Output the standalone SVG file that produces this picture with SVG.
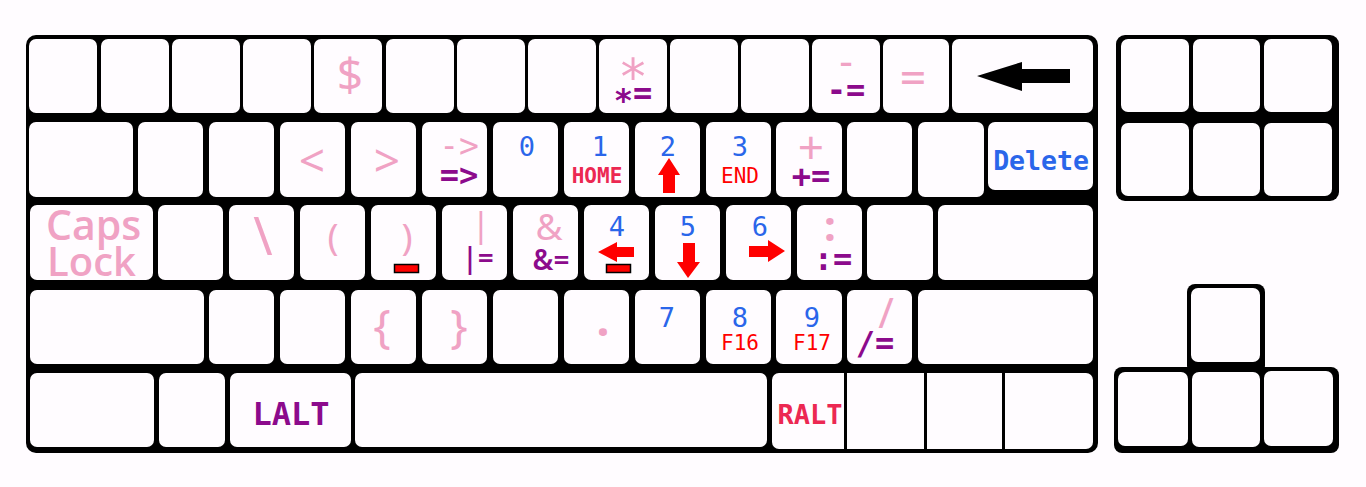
<svg xmlns="http://www.w3.org/2000/svg" width="1366" height="487" viewBox="0 0 1366 487">
<style>
.body{fill:#000}
.k{fill:#fffcff}
.div{stroke:#000;stroke-width:3}
.pk{fill:#f0a2c4;font-family:"Noto Sans",sans-serif;text-anchor:middle}
.pm{fill:#f0a2c4;font-family:"DejaVu Sans Mono",monospace;text-anchor:middle}
.pu{fill:#8c0a8c;font-family:"DejaVu Sans Mono",monospace;font-weight:bold;font-size:32px;text-anchor:middle}
.pus{fill:#8c0a8c;font-family:"Noto Sans",sans-serif;font-weight:600;text-anchor:middle}
.bl{fill:#2a66ea;font-family:"DejaVu Sans Mono",monospace;font-size:27px;text-anchor:middle}
.rd{fill:#ff0000;font-family:"DejaVu Sans Mono",monospace;font-size:21px;text-anchor:middle}
.cr{fill:#ec2852}
.ar{fill:#ff0000}
.bar{fill:#ff0000;stroke:#000;stroke-width:1.5}
</style>
<rect width="1366" height="487" fill="#fffcff"/>
<g id="frames">
<rect class="body" x="26" y="35" width="1072" height="418" rx="10"/>
<rect class="body" x="1116" y="35" width="223" height="166" rx="9"/>
<rect class="body" x="1187" y="284" width="78" height="90" rx="8"/>
<rect class="body" x="1114" y="367" width="225" height="86" rx="8"/>
</g>
<g id="row1">
<g id="k-esc"><rect class="k" x="29" y="39" width="68" height="74" rx="7"/></g>
<g id="k-1-1"><rect class="k" x="101" y="39" width="68" height="74" rx="7"/></g>
<g id="k-1-2"><rect class="k" x="172" y="39" width="68" height="74" rx="7"/></g>
<g id="k-1-3"><rect class="k" x="243" y="39" width="68" height="74" rx="7"/></g>
<g id="k-dollar"><rect class="k" x="314" y="39" width="68" height="74" rx="7"/><text class="pk" x="350" y="91" font-size="46">$</text></g>
<g id="k-1-5"><rect class="k" x="386" y="39" width="68" height="74" rx="7"/></g>
<g id="k-1-6"><rect class="k" x="457" y="39" width="68" height="74" rx="7"/></g>
<g id="k-1-7"><rect class="k" x="528" y="39" width="68" height="74" rx="7"/></g>
<g id="k-star"><rect class="k" x="599" y="39" width="68" height="74" rx="7"/><text class="pm" x="633" y="94" font-size="50">*</text><text class="pu" x="633" y="104"><tspan dy="7">*</tspan><tspan dy="-7">=</tspan></text></g>
<g id="k-1-9"><rect class="k" x="670" y="39" width="68" height="74" rx="7"/></g>
<g id="k-1-10"><rect class="k" x="741" y="39" width="68" height="74" rx="7"/></g>
<g id="k-minus"><rect class="k" x="812" y="39" width="68" height="74" rx="7"/><text class="pm" x="846" y="76" font-size="40">-</text><text class="pu" x="846" y="101">-=</text></g>
<g id="k-equal"><rect class="k" x="883" y="39" width="66" height="74" rx="7"/><text class="pm" x="913" y="91" font-size="42">=</text></g>
<g id="k-backspace"><rect class="k" x="952" y="39" width="141" height="74" rx="7"/><polygon points="977,76 1022,62 1022,69 1070,69 1070,83 1022,83 1022,91" fill="#000"/></g>
</g>
<g id="row2">
<g id="k-tab"><rect class="k" x="29" y="122" width="104" height="75" rx="7"/></g>
<g id="k-2-1"><rect class="k" x="138" y="122" width="65" height="75" rx="7"/></g>
<g id="k-2-2"><rect class="k" x="209" y="122" width="65" height="75" rx="7"/></g>
<g id="k-lt"><rect class="k" x="280" y="122" width="65" height="75" rx="7"/><text class="pk" x="312" y="177" font-size="46">&lt;</text></g>
<g id="k-gt"><rect class="k" x="351" y="122" width="65" height="75" rx="7"/><text class="pk" x="387" y="177" font-size="46">&gt;</text></g>
<g id="k-arrow"><rect class="k" x="422" y="122" width="65" height="75" rx="7"/><text class="pm" x="459" y="157" font-size="33">-&gt;</text><text class="pu" x="459" y="186">=&gt;</text></g>
<g id="k-0"><rect class="k" x="493" y="122" width="65" height="75" rx="7"/><text class="bl" x="527" y="156">0</text></g>
<g id="k-1"><rect class="k" x="564" y="122" width="65" height="75" rx="7"/><text class="bl" x="600" y="156">1</text><text class="rd cr" x="597" y="183" font-weight="600">HOME</text></g>
<g id="k-2"><rect class="k" x="635" y="122" width="65" height="75" rx="7"/><text class="bl" x="668" y="156">2</text><polygon class="ar" points="669,158 680,175 675,175 675,193 663,193 663,175 658,175"/></g>
<g id="k-3"><rect class="k" x="706" y="122" width="65" height="75" rx="7"/><text class="bl" x="740" y="156">3</text><text class="rd" x="740" y="183">END</text></g>
<g id="k-plus"><rect class="k" x="776" y="122" width="66" height="75" rx="7"/><text class="pk" x="811" y="164" font-size="46">+</text><text class="pu" x="811" y="187">+=</text></g>
<g id="k-2-11"><rect class="k" x="847" y="122" width="65" height="75" rx="7"/></g>
<g id="k-2-12"><rect class="k" x="918" y="122" width="66" height="75" rx="7"/></g>
<g id="k-delete"><rect class="k" x="988" y="122" width="105" height="68" rx="7"/><text x="1041" y="170" fill="#2a66ea" font-family="DejaVu Sans Mono, monospace" font-weight="bold" font-size="26.5" text-anchor="middle">Delete</text></g>
</g>
<g id="row3">
<g id="k-caps"><rect class="k" x="30" y="205" width="123" height="75" rx="7"/><text x="46" y="240" fill="#f0a2c4" font-family="Open Sans, sans-serif" font-weight="600" font-size="41">Caps</text><text x="47" y="276" fill="#f0a2c4" font-family="Open Sans, sans-serif" font-weight="600" font-size="40">Lock</text></g>
<g id="k-3-1"><rect class="k" x="158" y="205" width="65" height="75" rx="7"/></g>
<g id="k-bslash"><rect class="k" x="229" y="205" width="65" height="75" rx="7"/><text class="pk" x="263" y="255" font-size="52">\</text></g>
<g id="k-lparen"><rect class="k" x="300" y="205" width="65" height="75" rx="7"/><text class="pk" x="333" y="250" font-size="37">(</text></g>
<g id="k-rparen"><rect class="k" x="371" y="205" width="65" height="75" rx="7"/><text class="pk" x="407" y="250" font-size="37">)</text><rect class="bar" x="394.5" y="264.5" width="24" height="8"/></g>
<g id="k-pipe"><rect class="k" x="442" y="205" width="65" height="75" rx="7"/><text class="pk" x="481" y="237" font-size="35">|</text><text class="pus" x="478" y="268" font-size="28">|=</text></g>
<g id="k-amp"><rect class="k" x="513" y="205" width="65" height="75" rx="7"/><text class="pk" x="549" y="240" font-size="37">&amp;</text><text class="pus" x="551" y="270" font-size="28">&amp;=</text></g>
<g id="k-4"><rect class="k" x="584" y="205" width="65" height="75" rx="7"/><text class="bl" x="617" y="236">4</text><polygon class="ar" points="598,252 617,242 617,247 634,247 634,257 617,257 617,262"/><rect class="bar" x="606.5" y="264.5" width="24" height="8"/></g>
<g id="k-5"><rect class="k" x="655" y="205" width="65" height="75" rx="7"/><text class="bl" x="688" y="236">5</text><polygon class="ar" points="683,243 695,243 695,262 700,262 688,278 677,262 683,262"/></g>
<g id="k-6"><rect class="k" x="726" y="205" width="65" height="75" rx="7"/><text class="bl" x="760" y="236">6</text><polygon class="ar" points="749,246 768,246 768,240 785,251 768,262 768,257 749,257"/></g>
<g id="k-colon"><rect class="k" x="797" y="205" width="65" height="75" rx="7"/><text class="pk" x="830" y="241" font-size="42" font-weight="bold">:</text><text class="pu" x="833" y="270">:=</text></g>
<g id="k-3-11"><rect class="k" x="867" y="205" width="66" height="75" rx="7"/></g>
<g id="k-enter"><rect class="k" x="938" y="205" width="155" height="75" rx="7"/></g>
</g>
<g id="row4">
<g id="k-lshift"><rect class="k" x="30" y="290" width="174" height="74" rx="7"/></g>
<g id="k-4-1"><rect class="k" x="209" y="290" width="65" height="74" rx="7"/></g>
<g id="k-4-2"><rect class="k" x="280" y="290" width="65" height="74" rx="7"/></g>
<g id="k-lbrace"><rect class="k" x="351" y="290" width="65" height="74" rx="7"/><text class="pk" x="382" y="343" font-size="46">{</text></g>
<g id="k-rbrace"><rect class="k" x="422" y="290" width="65" height="74" rx="7"/><text class="pk" x="459" y="343" font-size="46">}</text></g>
<g id="k-4-5"><rect class="k" x="493" y="290" width="65" height="74" rx="7"/></g>
<g id="k-dot"><rect class="k" x="564" y="290" width="65" height="74" rx="7"/><text class="pk" x="603" y="336" font-size="46" font-weight="bold">.</text></g>
<g id="k-7"><rect class="k" x="635" y="290" width="65" height="74" rx="7"/><text class="bl" x="667" y="327">7</text></g>
<g id="k-8"><rect class="k" x="706" y="290" width="65" height="74" rx="7"/><text class="bl" x="740" y="327">8</text><text class="rd" x="740" y="350">F16</text></g>
<g id="k-9"><rect class="k" x="776" y="290" width="66" height="74" rx="7"/><text class="bl" x="812" y="327">9</text><text class="rd" x="812" y="350">F17</text></g>
<g id="k-slash"><rect class="k" x="847" y="290" width="65" height="74" rx="7"/><text class="pk" x="886" y="328" font-size="42">/</text><text class="pu" x="875" y="354">/=</text></g>
<g id="k-rshift"><rect class="k" x="918" y="290" width="175" height="74" rx="7"/></g>
</g>
<g id="row5">
<g id="k-lctrl"><rect class="k" x="30" y="373" width="124" height="74" rx="7"/></g>
<g id="k-win"><rect class="k" x="159" y="373" width="66" height="74" rx="7"/></g>
<g id="k-lalt"><rect class="k" x="230" y="373" width="121" height="74" rx="7"/><text x="291" y="425" fill="#8c0a8c" font-family="DejaVu Sans Mono, monospace" font-weight="bold" font-size="32" text-anchor="middle">LALT</text></g>
<g id="k-space"><rect class="k" x="355" y="373" width="412" height="74" rx="7"/></g>
<g id="k-ralt-group"><rect class="k" x="772" y="373" width="321" height="76" rx="7"/><line class="div" x1="845.5" y1="373" x2="845.5" y2="449"/><line class="div" x1="925.5" y1="373" x2="925.5" y2="449"/><line class="div" x1="1003.5" y1="373" x2="1003.5" y2="449"/><text x="810" y="424" fill="#ec2852" font-family="DejaVu Sans Mono, monospace" font-weight="bold" font-size="27" text-anchor="middle">RALT</text></g>
</g>
<g id="nav">
<g id="k-ins"><rect class="k" x="1121" y="39" width="68" height="73" rx="7"/></g>
<g id="k-home"><rect class="k" x="1193" y="39" width="67" height="73" rx="7"/></g>
<g id="k-pgup"><rect class="k" x="1264" y="39" width="68" height="73" rx="7"/></g>
<g id="k-del"><rect class="k" x="1121" y="123" width="68" height="73" rx="7"/></g>
<g id="k-end"><rect class="k" x="1193" y="123" width="67" height="73" rx="7"/></g>
<g id="k-pgdn"><rect class="k" x="1264" y="123" width="68" height="73" rx="7"/></g>
</g>
<g id="arrows">
<g id="k-up"><rect class="k" x="1191" y="288" width="69" height="74" rx="7"/></g>
<g id="k-left"><rect class="k" x="1118" y="372" width="70" height="74" rx="7"/></g>
<g id="k-down"><rect class="k" x="1192" y="372" width="68" height="75" rx="7"/></g>
<g id="k-right"><rect class="k" x="1264" y="371" width="69" height="75" rx="7"/></g>
</g>
<g id="connectors"/>
</svg>
